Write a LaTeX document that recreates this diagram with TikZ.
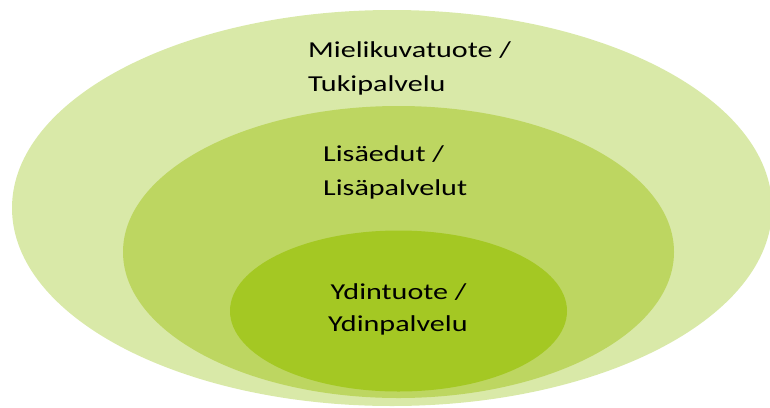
\documentclass[tikz,border=0pt]{standalone}
\usepackage{fontspec}
\setmainfont{Carlito}
\newfontfamily\labfont[FakeStretch=1.32]{Carlito}
\definecolor{outerc}{HTML}{D9E9A8}
\definecolor{midc}{HTML}{BDD661}
\definecolor{innerc}{HTML}{A4C823}
\begin{document}
\begin{tikzpicture}[x=1pt,y=-1pt,
  lab/.style={anchor=base west,inner sep=0pt,text=black,font=\labfont\fontsize{22.8}{27}\selectfont}]
\useasboundingbox (0,0) rectangle (770,407);
\begin{scope}
\clip (0,0) rectangle (770,407);
\fill[outerc] (392,208) ellipse [x radius=380, y radius=198];
\fill[midc] (398.5,252) ellipse [x radius=275.5, y radius=146];
\fill[innerc] (398.5,311) ellipse [x radius=168.5, y radius=80.5];
\end{scope}
\node[lab] (o1) at (308,57.3) {Mielikuvatuote /};
\node[lab] (o2) at (308,91.5) {Tukipalvelu};
\node[lab] (m1) at (323,161.7) {Lisäedut /};
\node[lab] (m2) at (323,195.7) {Lisäpalvelut};
\node[lab] (i1) at (330.5,299.3) {Ydintuote /};
\node[lab] (i2) at (328,331.7) {Ydinpalvelu};
\end{tikzpicture}
\end{document}
